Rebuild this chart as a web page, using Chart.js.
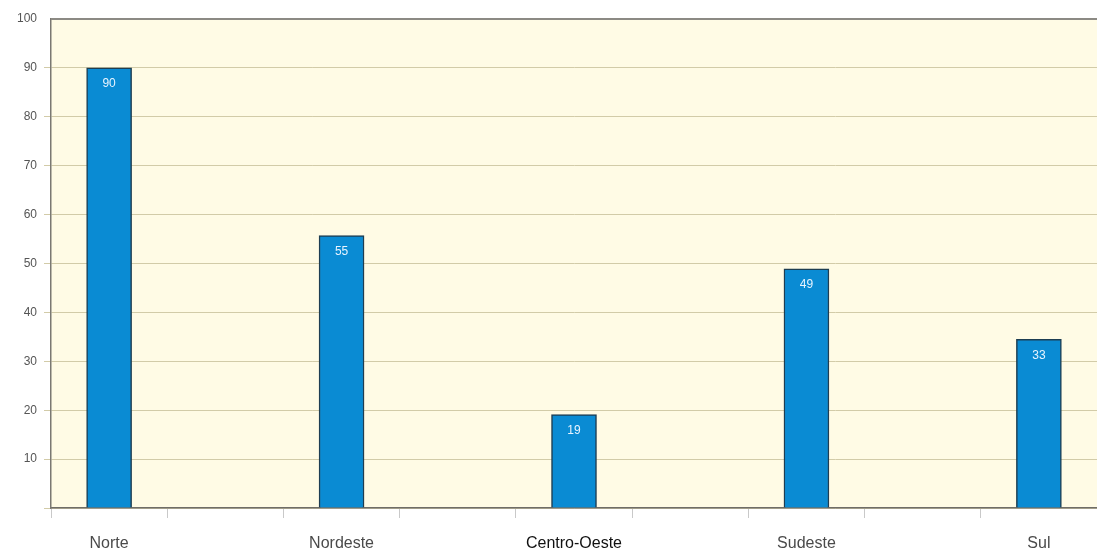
<!DOCTYPE html>
<html>
<head>
<meta charset="utf-8">
<script src="https://cdn.jsdelivr.net/npm/chart.js@4.4.1/dist/chart.umd.min.js"></script>
<style>
html,body{margin:0;padding:0;background:#fff;}
#wrap{width:1097px;height:556px;position:relative;}
</style>
</head>
<body>
<div id="wrap"><canvas id="c"></canvas></div>
<script>
// Data
const categories = ['Norte', '', 'Nordeste', '', 'Centro-Oeste', '', 'Sudeste', '', 'Sul'];
const values = [90, null, 55.7, null, 19.1, null, 48.9, null, 34.5];
const valueLabels = ['90', '', '55', '', '19', '', '49', '', '33'];
const yTicks = [10, 20, 30, 40, 50, 60, 70, 80, 90, 100];

const valueLabelPlugin = {
  id: 'valueLabels',
  afterDatasetsDraw(chart) {
    const ctx = chart.ctx;
    const meta = chart.getDatasetMeta(0);
    ctx.save();
    ctx.fillStyle = '#e8f4ff';
    ctx.font = '12px Arial, "Liberation Sans", sans-serif';
    ctx.textAlign = 'center';
    ctx.textBaseline = 'middle';
    meta.data.forEach((bar, i) => {
      if (values[i] == null) return;
      ctx.fillText(valueLabels[i], bar.x, bar.y + 16);
    });
    ctx.restore();
  }
};

const bgPlugin = {
  id: 'plotBg',
  beforeDraw(chart) {
    const a = chart.chartArea;
    const ctx = chart.ctx;
    ctx.save();
    ctx.fillStyle = '#fffbe5';
    ctx.fillRect(a.left, a.top, a.right - a.left, a.bottom - a.top);
    ctx.restore();
  },
  afterDraw(chart) {
    const a = chart.chartArea;
    const ctx = chart.ctx;
    ctx.save();
    ctx.strokeStyle = '#8c8a84';
    ctx.lineWidth = 2;
    ctx.beginPath();
    ctx.moveTo(a.left, a.top);
    ctx.lineTo(a.right, a.top);
    ctx.stroke();
    ctx.restore();
  }
};

new Chart(document.getElementById('c'), {
  type: 'bar',
  data: {
    labels: categories,
    datasets: [{
      data: values,
      backgroundColor: '#0a8bd3',
      borderColor: '#1d3d52',
      borderWidth: 1.5,
      barThickness: 45,
      categoryPercentage: 1,
      barPercentage: 1
    }]
  },
  options: {
    responsive: true,
    maintainAspectRatio: false,
    animation: false,
    layout: { padding: { top: 19, right: 0, left: 0, bottom: 0 } },
    plugins: { legend: { display: false }, tooltip: { enabled: false } },
    scales: {
      x: {
        grid: {
          display: true,
          drawOnChartArea: false,
          drawTicks: true,
          tickLength: 10,
          color: '#c9c9c9',
          offset: true
        },
        border: { display: true, color: '#6f6d68', width: 1.5 },
        ticks: {
          autoSkip: false,
          maxRotation: 0,
          padding: 16,
          font: { family: 'Arial, "Liberation Sans", sans-serif', size: 16 },
          color: (c) => (categories[c.index] === 'Centro-Oeste' ? '#111111' : '#4a4a4a')
        },
        afterFit(scale) { scale.height = 48; }
      },
      y: {
        min: 0,
        max: 100,
        afterBuildTicks(scale) {
          scale.ticks = [0].concat(yTicks).map(v => ({ value: v }));
        },
        grid: {
          color: (c) => (c.tick && c.tick.value === 100 ? 'rgba(0,0,0,0)' : '#d2cba8'),
          lineWidth: 1,
          tickLength: 7,
          drawTicks: true
        },
        border: { display: true, color: '#7a7872', width: 1.5 },
        ticks: {
          padding: 7,
          font: { family: 'Arial, "Liberation Sans", sans-serif', size: 12 },
          color: '#555555',
          callback: (v) => (v === 0 ? '' : String(v))
        },
        afterFit(scale) { scale.width = 51; }
      }
    }
  },
  plugins: [bgPlugin, valueLabelPlugin]
});
</script>
</body>
</html>
